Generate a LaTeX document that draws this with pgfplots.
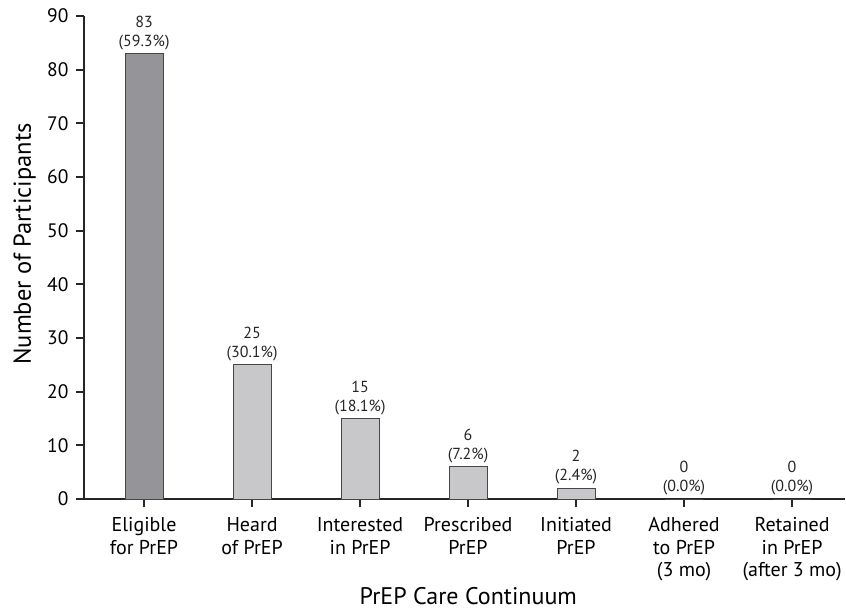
\documentclass[border=0pt]{standalone}
\usepackage{pgfplots}
\pgfplotsset{compat=1.18}
\usepackage{fontspec}
\setmainfont{PT Sans}
\definecolor{darkbar}{RGB}{148,148,153}
\definecolor{lightbar}{RGB}{200,200,202}
\definecolor{edgec}{RGB}{70,70,70}
\begin{document}
\begin{tikzpicture}
\begin{axis}[
  scale only axis,
  width=761pt, height=483pt,
  xmin=-0.556, xmax=6.49,
  ymin=0, ymax=90,
  ytick={0,10,...,90},
  xtick={0,1,2,3,4,5,6},
  xticklabels={Eligible\\for PrEP, Heard\\of PrEP, Interested\\in PrEP, Prescribed\\PrEP, Initiated\\PrEP, Adhered\\to PrEP\\(3 mo), Retained\\in PrEP\\(after 3 mo)},
  axis x line=bottom, axis y line=left,
  axis line style={-, line width=1.8pt, black!85},
  tick align=outside,
  major tick length=8pt,
  tick style={line width=1.8pt, black!85},
  /pgf/number format/assume math mode=true,
  yticklabel style={font=\fontsize{19.5}{22}\selectfont, xshift=-4pt},
  xticklabel style={font=\fontsize{20}{22.5}\selectfont, align=center, yshift=-7pt},
  xlabel={PrEP Care Continuum},
  ylabel={Number of Participants},
  every axis x label/.style={at={(axis description cs:0.505,-0.2)}, anchor=center, font=\fontsize{24}{28}\selectfont},
  every axis y label/.style={at={(axis description cs:-0.078,0.528)}, rotate=90, anchor=center, font=\fontsize{24.5}{28}\selectfont},
  ybar, bar width=38pt, bar shift=0pt,
  point meta=explicit symbolic,
  nodes near coords,
  nodes near coords style={align=center, font=\fontsize{16}{19}\selectfont, text=black!85},
  clip=false,
]
\addplot[fill=darkbar, draw=edgec, line width=1pt] coordinates {
  (0,83) [{83\\(59.3\%)}]
};
\addplot[fill=lightbar, draw=edgec, line width=1pt] coordinates {
  (1,25) [{25\\(30.1\%)}]
  (2,15) [{15\\(18.1\%)}]
  (3,6) [{6\\(7.2\%)}]
  (4,2) [{2\\(2.4\%)}]
  (5,0) [{0\\(0.0\%)}]
  (6,0) [{0\\(0.0\%)}]
};
\end{axis}
\pgfresetboundingbox
\useasboundingbox (-84pt,-115pt) rectangle (762pt,499pt);
\end{tikzpicture}
\end{document}
